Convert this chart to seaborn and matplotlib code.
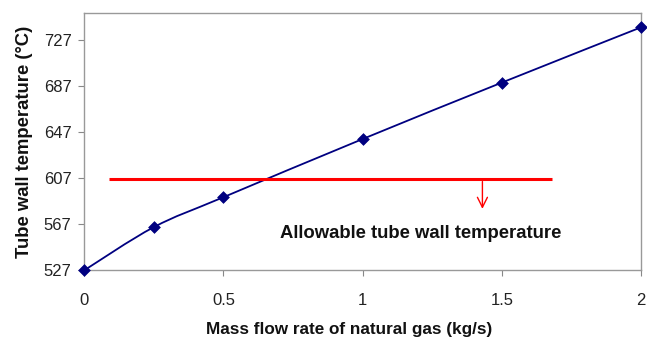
import matplotlib
matplotlib.use("Agg")
import matplotlib.pyplot as plt
from matplotlib.path import Path
from matplotlib.patches import PathPatch
import seaborn as sns
import pandas as pd

# data
flow = [0, 0.25, 0.5, 1.0, 1.5, 2.0]
temp = [527, 564.5, 590.5, 641, 690, 738]
allow_temp = 606.5
allow_x = [0.09, 1.68]
arrow_x = 1.43
arrow_y_end = 578
yticks = [527, 567, 607, 647, 687, 727]
xticks = [0, 0.5, 1, 1.5, 2]
xticklabels = ["0", "0.5", "1", "1.5", "2"]

sns.set_theme(style="white")
plt.rcParams['font.family'] = ['Liberation Sans', 'DejaVu Sans']

fig, ax = plt.subplots(figsize=(6.47, 3.38), dpi=100)
fig.subplots_adjust(left=0.13, right=0.991, top=0.962, bottom=0.2)

ax.set_xlim(0, 2)
ax.set_ylim(527, 750.5)

# smoothed line (Excel-style Bezier through the data points)
pts = list(zip(flow, temp))
verts = [pts[0]]
codes = [Path.MOVETO]
n = len(pts)
for i in range(n - 1):
    p0 = pts[i - 1] if i > 0 else pts[i]
    p1 = pts[i]
    p2 = pts[i + 1]
    p3 = pts[i + 2] if i + 2 < n else pts[i + 1]
    c1 = (p1[0] + (p2[0] - p0[0]) / 6, p1[1] + (p2[1] - p0[1]) / 6)
    c2 = (p2[0] - (p3[0] - p1[0]) / 6, p2[1] - (p3[1] - p1[1]) / 6)
    verts += [c1, c2, p2]
    codes += [Path.CURVE4] * 3
ax.add_patch(PathPatch(Path(verts, codes), fill=False, edgecolor="#000080",
                       lw=1.3, clip_on=False, zorder=2))

df = pd.DataFrame({"flow": flow, "temp": temp})
sns.scatterplot(data=df, x="flow", y="temp", ax=ax, color="#000080",
                marker="D", s=36, edgecolor="#000080", clip_on=False, zorder=3)

ax.hlines(allow_temp, allow_x[0], allow_x[1], color="#ff0000", lw=2.2)
ax.annotate("", xy=(arrow_x, arrow_y_end), xytext=(arrow_x, allow_temp),
            arrowprops=dict(arrowstyle="->", color="#ff0000", lw=1.0,
                            mutation_scale=18))
ax.text(1.21, 559, "Allowable tube wall temperature", ha="center", va="center",
        fontsize=13.3, fontweight="bold", color="#111111")

ax.set_xticks(xticks)
ax.set_xticklabels(xticklabels)
ax.set_yticks(yticks)
ax.tick_params(axis="both", labelsize=12, colors="#222222", length=4, width=0.8,
               direction="out", color="#888888", bottom=True, left=True, pad=5)
ax.tick_params(axis="x", pad=12)
for s in ax.spines.values():
    s.set_color("#999999")
    s.set_linewidth(1.0)

ax.set_xlabel("Mass flow rate of natural gas (kg/s)", fontsize=12.3, fontweight="bold",
              labelpad=10, color="#111111")
ax.xaxis.label.set_x(0.476)
ax.set_ylabel("Tube wall temperature (\u00b0C)", fontsize=13.3, fontweight="bold",
              labelpad=8, color="#111111")

fig.savefig("out.png", dpi=100)
